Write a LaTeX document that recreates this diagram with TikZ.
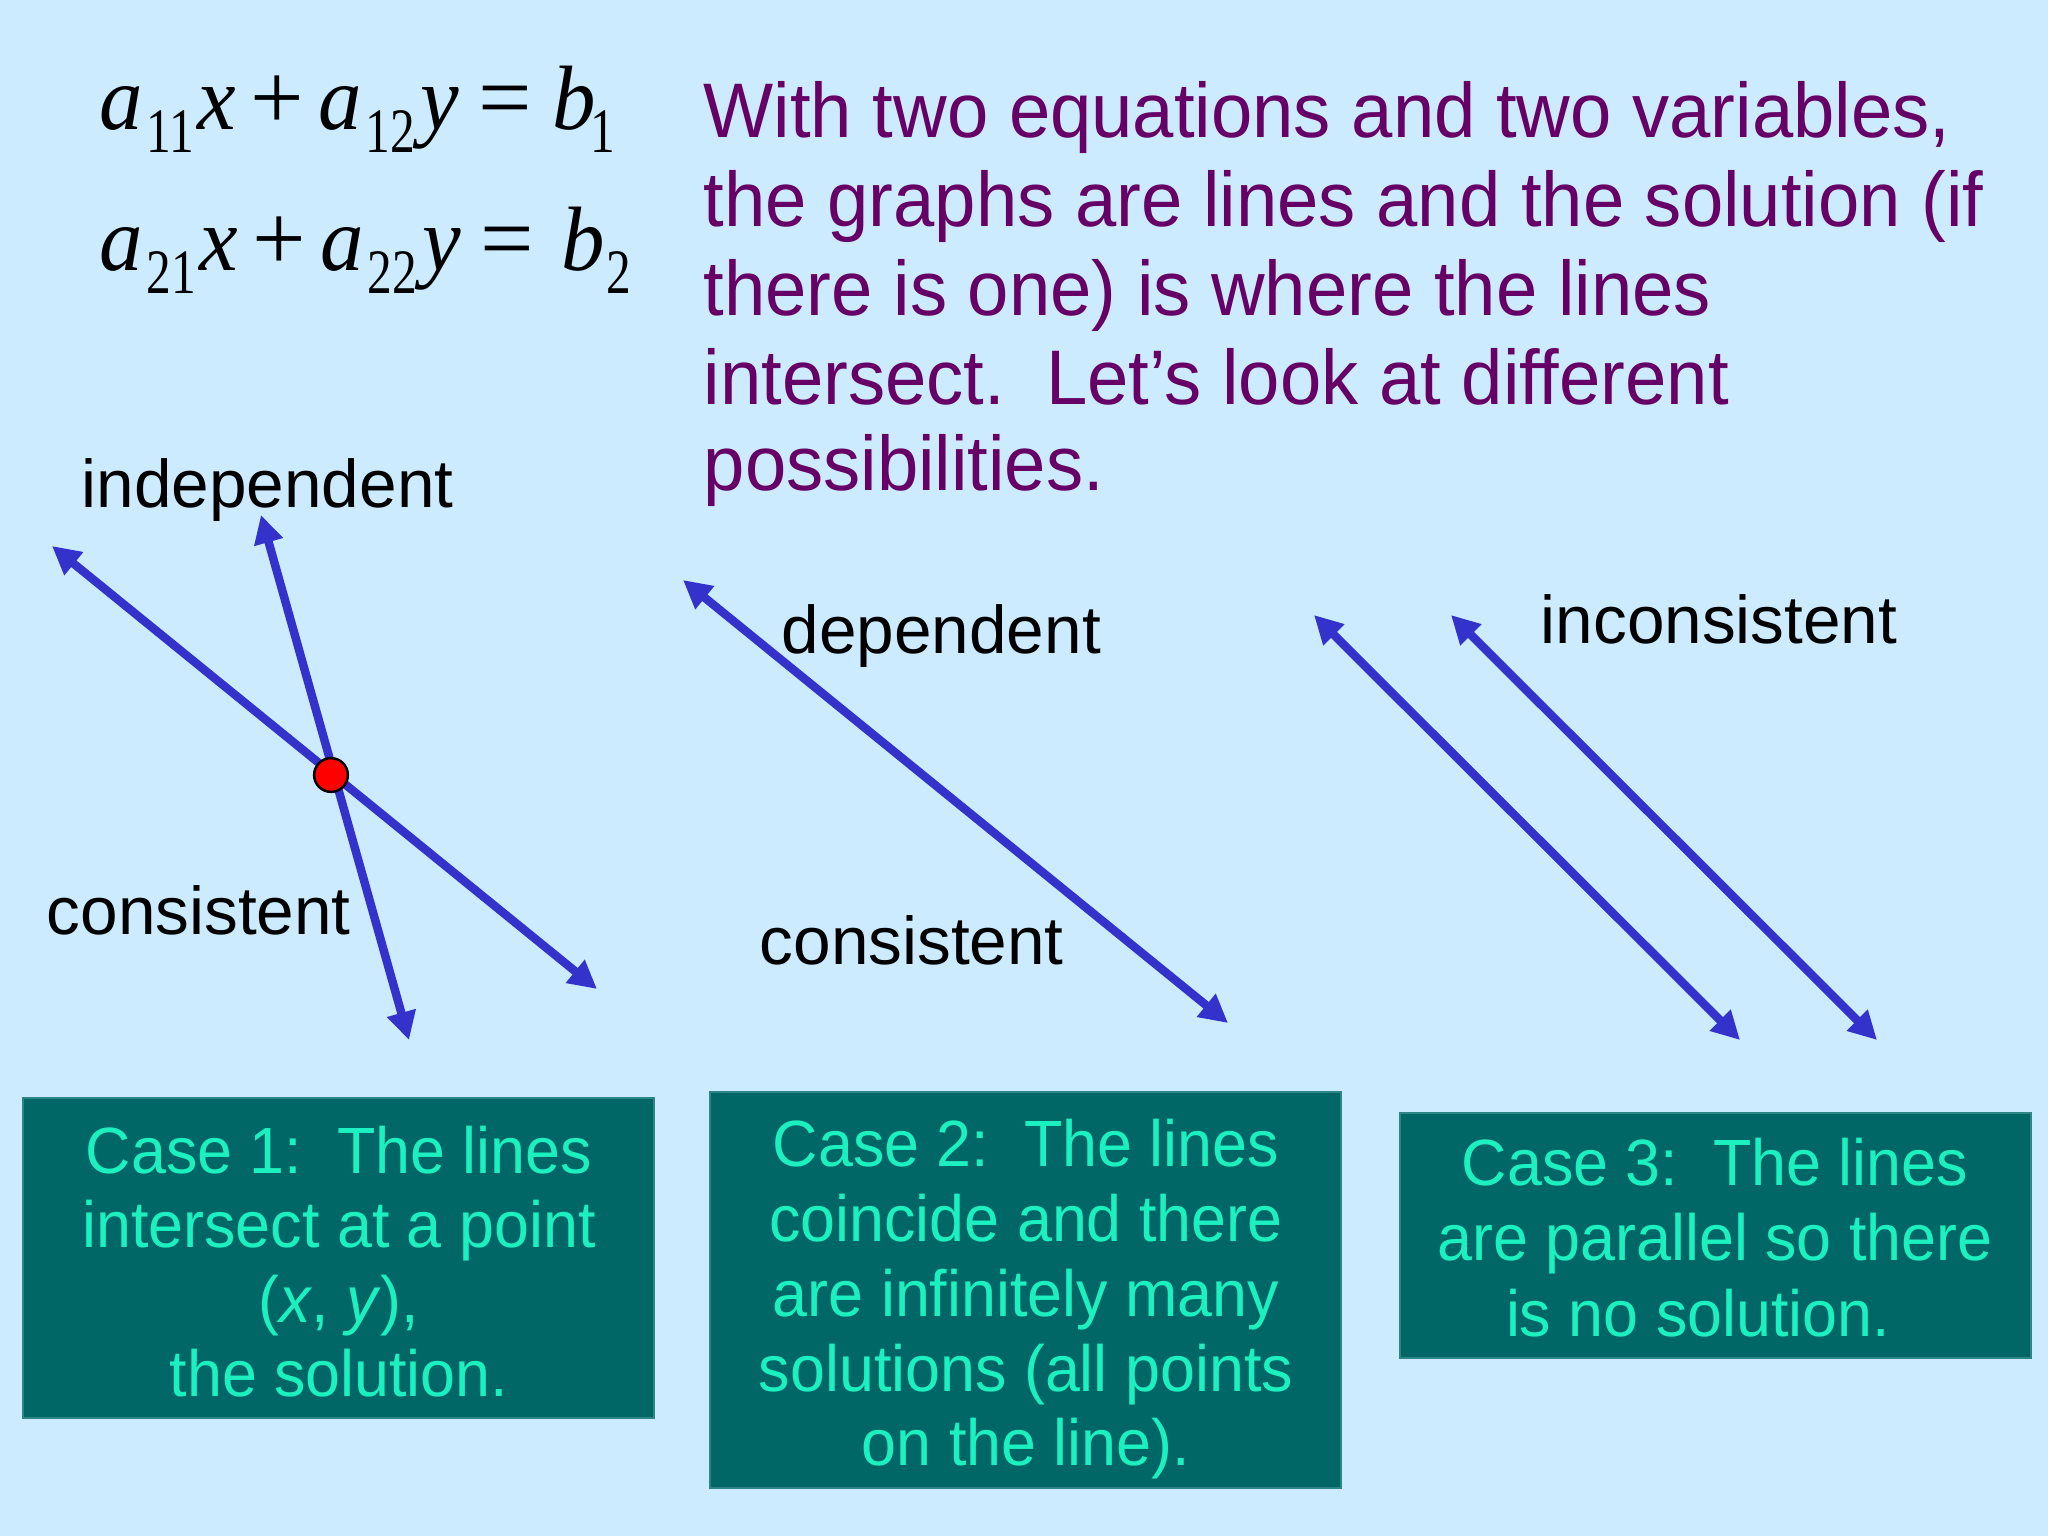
\documentclass[tikz,border=0pt]{standalone}
\usepackage{fontspec}
\setmainfont{Liberation Sans}
\newfontfamily\eqfont[FakeStretch=0.95]{Liberation Serif}
\newfontfamily\eqopfont{Liberation Serif}
\newfontfamily\eqsubfont[FakeStretch=0.78]{Liberation Serif}
\newfontfamily\condfont[FakeStretch=0.96]{Liberation Sans}
\usetikzlibrary{arrows.meta}
\definecolor{bgblue}{HTML}{CCEBFF}
\definecolor{introcol}{HTML}{660066}
\definecolor{arrowblue}{HTML}{3333CC}
\definecolor{boxfill}{HTML}{006666}
\definecolor{boxline}{HTML}{2E8585}
\definecolor{boxtext}{HTML}{1CF0C0}
\newcommand\eqsb[1]{\raisebox{-6.6pt}{\eqsubfont\fontsize{18pt}{18pt}\selectfont #1}}
\newcommand\eqplus{\kern4pt{\eqopfont\fontsize{27pt}{28pt}\selectfont+}\kern4.2pt}
\newcommand\eqeq{\kern5.5pt{\eqopfont\fontsize{27pt}{28pt}\selectfont=}\kern6pt}
\begin{document}
\begin{tikzpicture}[x=0.01cm,y=-0.01cm,
  eqtext/.style={anchor=base west,inner sep=0pt,font=\eqfont\fontsize{26pt}{28pt}\selectfont},
  intro/.style={anchor=base west,inner sep=0pt,text=introcol,font=\condfont\fontsize{22pt}{25pt}\selectfont},
  lbl/.style={anchor=base west,inner sep=0pt,text=black,font=\fontsize{19.2pt}{23pt}\selectfont},
  arr/.style={draw=arrowblue,line width=2.4pt,{Triangle[length=8pt,width=8pt]}-{Triangle[length=8pt,width=8pt]}},
  dot/.style={circle,fill=red,draw=black,line width=0.7pt,minimum size=9.6pt,inner sep=0pt},
  casebox/.style={rectangle,fill=boxfill,draw=boxline,line width=0.6pt,inner sep=0pt},
  boxtxt/.style={anchor=base,inner sep=0pt,text=boxtext,font=\condfont\fontsize{18.6pt}{21pt}\selectfont}]
\fill[bgblue] (0,0) rectangle (2048,1536);
\useasboundingbox (0,0) rectangle (2048,1536);

% equations
\node[eqtext] (eq1) at (99,129) {\textit{a}\kern1pt\eqsb{11}\kern1pt\textit{x}\eqplus\textit{a}\kern1pt\eqsb{12}\kern1.5pt\textit{y}\eqeq\textit{b}\kern-1.5pt\eqsb{1}};
\node[eqtext] (eq2) at (99,270) {\textit{a}\kern1pt\eqsb{21}\kern1pt\textit{x}\eqplus\textit{a}\kern1pt\eqsb{22}\kern1.5pt\textit{y}\eqeq\kern2pt\textit{b}\kern0.5pt\eqsb{2}};

% intro text
\node[intro] (in1) at (703,137) {With two equations and two variables,};
\node[intro] (in2) at (703,226) {the graphs are lines and the solution (if};
\node[intro] (in3) at (703,315) {there is one) is where the lines};
\node[intro] (in4) at (703,404) {intersect.\ \ Let’s look at different};
\node[intro] (in5) at (703,490) {possibilities.};

% labels
\node[lbl] (indep) at (81,507) {independent};
\node[lbl] (cons1) at (46,934) {consistent};
\node[lbl] (dep) at (781,653) {dependent};
\node[lbl] (cons2) at (759,964) {consistent};
\node[lbl] (incons) at (1540,643) {inconsistent};

% line end points
\coordinate (A1) at (52,546);   \coordinate (A2) at (597,989);
\coordinate (B1) at (261,515);  \coordinate (B2) at (409,1040);
\coordinate (C1) at (683,580);  \coordinate (C2) at (1228,1023);
\coordinate (D1) at (1314,615); \coordinate (D2) at (1740,1040);
\coordinate (E1) at (1451,615); \coordinate (E2) at (1877,1040);

\draw[arr] (A1) -- (A2);
\draw[arr] (B1) -- (B2);
\draw[arr] (C1) -- (C2);
\draw[arr] (D1) -- (D2);
\draw[arr] (E1) -- (E2);
\node[dot] (sol) at (331,775) {};

% case boxes
\node[casebox,minimum width=6.305cm,minimum height=3.2cm] (box1) at (338.75,1258) {};
\node[casebox,minimum width=6.305cm,minimum height=3.96cm] (box2) at (1025.75,1290) {};
\node[casebox,minimum width=6.31cm,minimum height=2.45cm] (box3) at (1715.5,1235.5) {};

\node[boxtxt] (t11) at (339,1173) {Case 1:\ \ The lines};
\node[boxtxt] (t12) at (339,1247) {intersect at a point};
\node[boxtxt] (t13) at (339,1322) {(\textit{x}, \textit{y}),};
\node[boxtxt] (t14) at (339,1396) {the solution.};

\node[boxtxt] (t21) at (1026,1166) {Case 2:\ \ The lines};
\node[boxtxt] (t22) at (1026,1241) {coincide and there};
\node[boxtxt] (t23) at (1026,1316) {are infinitely many};
\node[boxtxt] (t24) at (1026,1391) {solutions (all points};
\node[boxtxt] (t25) at (1026,1465) {on the line).};

\node[boxtxt] (t31) at (1715,1185) {Case 3:\ \ The lines};
\node[boxtxt] (t32) at (1715,1260) {are parallel so there};
\node[boxtxt] (t33) at (1715,1336) {is no solution.\hspace*{0.52em}};
\end{tikzpicture}
\end{document}
